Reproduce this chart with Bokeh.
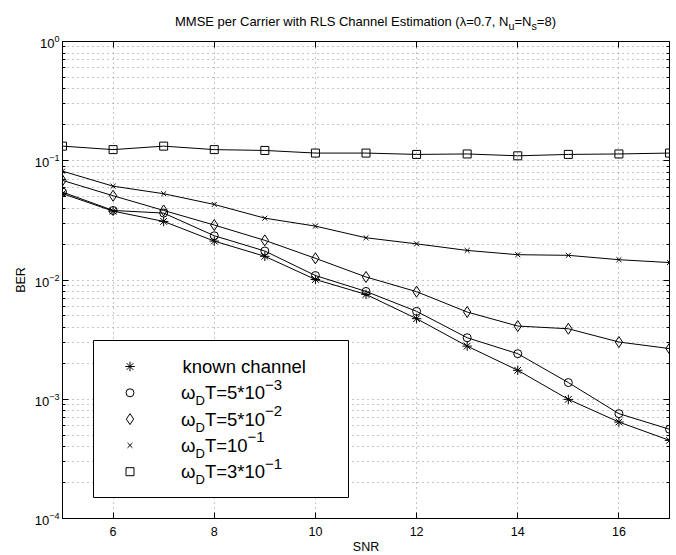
import math
from bokeh.plotting import figure
from bokeh.layouts import column
from bokeh.models import (FixedTicker, LinearAxis, LogAxis, Label, BoxAnnotation,
                          Range1d, CustomJSTickFormatter, LogTickFormatter, Div)
from bokeh.embed import file_html
from bokeh.resources import INLINE

# ---------------- data ----------------
snr = [5, 6, 7, 8, 9, 10, 11, 12, 13, 14, 15, 16, 17]
ber_known = [0.0530, 0.0378, 0.0310, 0.0212, 0.0158, 0.0101, 0.00757, 0.00474,
             0.00279, 0.00175, 0.000998, 0.000644, 0.000452]
ber_5e3 = [0.0546, 0.0383, 0.0364, 0.0235, 0.0175, 0.0109, 0.00802, 0.00546,
           0.00328, 0.00241, 0.00138, 0.000757, 0.000560]
ber_5e2 = [0.0684, 0.0509, 0.0383, 0.0289, 0.0215, 0.0152, 0.0106, 0.00798,
           0.00539, 0.00411, 0.00390, 0.00302, 0.00266]
ber_1e1 = [0.0818, 0.0612, 0.0529, 0.0430, 0.0330, 0.0283, 0.0226, 0.0201,
           0.0177, 0.0163, 0.0161, 0.0148, 0.0140]
ber_3e1 = [0.1326, 0.124, 0.1326, 0.124, 0.122, 0.116, 0.116, 0.113,
           0.114, 0.110, 0.113, 0.114, 0.116]

x_ticks = [6, 8, 10, 12, 14, 16]
x_tick_labels = ["6", "8", "10", "12", "14", "16"]
y_major = [1e-4, 1e-3, 1e-2, 1e-1, 1.0]
y_minor = [k * 10.0 ** e for e in range(-4, 0) for k in range(2, 10)]

legend_markers = ["asterisk", "circle", "diamond", "x", "square"]
legend_sizes = [9.5, 8, 11, 7, 8]
legend_mult = ["", "5*", "5*", "", "3*"]
legend_exp = ["", "\u22123", "\u22122", "\u22121", "\u22121"]
series = [ber_known, ber_5e3, ber_5e2, ber_1e1, ber_3e1]

title_html = ("MMSE per Carrier with RLS Channel Estimation "
              "(\u03bb=0.7, N<sub>u</sub>=N<sub>s</sub>=8)")

# ---------------- layout ----------------
FONT = "Liberation Sans"
FL, FT, FW, FH = 62, 41, 607, 477
TITLE_H = 34
X0, X1 = 5, 17
Y0, Y1 = 1e-4, 1.0
GRID = "#8c8c8c"


def xd(px):
    return X0 + (px - FL) / FW * (X1 - X0)


def yd(py):
    return 10 ** (math.log10(Y1) - (py - FT) / FH * (math.log10(Y1) - math.log10(Y0)))


p = figure(frame_width=FW, frame_height=FH, x_range=Range1d(X0, X1),
           y_range=Range1d(Y0, Y1), y_axis_type="log",
           output_backend="svg", toolbar_location=None, title=None,
           min_border_left=FL, min_border_right=7, min_border_top=FT - TITLE_H,
           min_border_bottom=37)
p.background_fill_color = "white"
p.border_fill_color = "white"
p.outline_line_color = "black"
p.outline_line_width = 1

empty = CustomJSTickFormatter(code="return ''")

xa = p.xaxis[0]
xa.ticker = FixedTicker(ticks=x_ticks, minor_ticks=[])
xa.major_label_overrides = {t: l for t, l in zip(x_ticks, x_tick_labels)}
xa.major_tick_in = 6
xa.major_tick_out = 0
xa.minor_tick_line_color = None
xa.major_label_standoff = 8
xa.major_label_text_font = FONT
xa.major_label_text_font_size = "12.5px"
xa.major_label_text_color = "black"
xa.axis_line_color = "black"
xa.major_tick_line_color = "black"
xa.axis_label = "SNR"
xa.axis_label_standoff = 1
xa.axis_label_text_font = FONT
xa.axis_label_text_font_size = "12.5px"
xa.axis_label_text_font_style = "normal"
xa.axis_label_text_color = "black"

ya = p.yaxis[0]
ya.ticker = FixedTicker(ticks=y_major, minor_ticks=y_minor)
ya.formatter = LogTickFormatter()
ya.major_tick_in = 6
ya.major_tick_out = 0
ya.minor_tick_in = 3
ya.minor_tick_out = 0
ya.major_label_standoff = 3
ya.major_label_text_font = FONT
ya.major_label_text_font_size = "13px"
ya.major_label_text_color = "black"
ya.axis_line_color = "black"
ya.major_tick_line_color = "black"
ya.minor_tick_line_color = "black"
ya.axis_label = "BER"
ya.axis_label_standoff = 4
ya.axis_label_text_font = FONT
ya.axis_label_text_font_size = "12.5px"
ya.axis_label_text_font_style = "normal"
ya.axis_label_text_color = "black"

top = LinearAxis(ticker=FixedTicker(ticks=x_ticks, minor_ticks=[]), formatter=empty,
                 major_tick_in=6, major_tick_out=0, minor_tick_line_color=None,
                 major_label_standoff=0, major_label_text_font_size="1px",
                 axis_line_color="black")
p.add_layout(top, "above")
right = LogAxis(ticker=FixedTicker(ticks=y_major, minor_ticks=y_minor), formatter=empty,
                major_tick_in=6, major_tick_out=0, minor_tick_in=3, minor_tick_out=0,
                major_label_standoff=0, major_label_text_font_size="1px",
                axis_line_color="black")
p.add_layout(right, "right")

for g in (p.xgrid[0], p.ygrid[0]):
    g.grid_line_color = GRID
    g.grid_line_dash = "1 4"
    g.grid_line_width = 1
p.ygrid[0].minor_grid_line_color = GRID
p.ygrid[0].minor_grid_line_dash = "1 4"
p.ygrid[0].minor_grid_line_width = 1

# ---------------- curves ----------------
for vals, mk, sz in zip(series, legend_markers, legend_sizes):
    p.line(snr, vals, line_color="black", line_width=1)
    p.scatter(snr, vals, marker=mk, size=sz, line_color="black",
              fill_color=None, line_width=1)

# ---------------- legend ----------------
box = BoxAnnotation(left=xd(93), right=xd(348), top=yd(340), bottom=yd(497),
                    fill_color="white", fill_alpha=1.0, line_color="black",
                    line_width=1, line_alpha=1.0)
p.add_layout(box)

rows = [366 + 26.3 * i for i in range(5)]
for r, mk, sz in zip(rows, legend_markers, legend_sizes):
    p.scatter([xd(129.5)], [yd(r)], marker=mk, size=sz, line_color="black",
              fill_color=None, line_width=1, level="overlay")

LF = 18.5
DF = 13.0
SF = 15.0
tx0 = xd(182)
p.add_layout(Label(x=tx0, y=yd(rows[0]), text="known channel", text_align="left",
                   text_baseline="middle", text_font=FONT,
                   text_font_size=f"{LF}px", text_color="black"))
for i in range(1, 5):
    r = yd(rows[i])
    w_om = 13.0
    w_D = 0.722 * DF
    base = "T=" + legend_mult[i] + "10"
    wb = (0.611 + 0.584 + (0.556 + 0.389 if legend_mult[i] else 0) + 1.112) * LF
    p.add_layout(Label(x=tx0, y=r, text="\u03c9", text_align="right", text_baseline="middle",
                       x_offset=w_om, text_font=FONT, text_font_size=f"{LF}px",
                       text_color="black"))
    p.add_layout(Label(x=tx0, y=r, text="D", text_align="left", text_baseline="middle",
                       x_offset=w_om, y_offset=-8, text_font=FONT,
                       text_font_size=f"{DF}px", text_color="black"))
    p.add_layout(Label(x=tx0, y=r, text=base, text_align="left", text_baseline="middle",
                       x_offset=w_om + w_D, text_font=FONT, text_font_size=f"{LF}px",
                       text_color="black"))
    p.add_layout(Label(x=tx0, y=r, text=legend_exp[i], text_align="left",
                       text_baseline="middle", x_offset=w_om + w_D + wb, y_offset=8,
                       text_font=FONT, text_font_size=f"{SF}px", text_color="black"))

# ---------------- title ----------------
title = Div(text=title_html, width=FW, height=TITLE_H, margin=(0, 7, 0, FL),
            styles={"text-align": "center", "font-family": FONT, "font-size": "13px",
                    "color": "black", "line-height": "16px", "padding-top": "14px",
                    "box-sizing": "border-box", "background": "white"})

layout = column(title, p, spacing=0)
open("out.html", "w").write(file_html(layout, INLINE))
